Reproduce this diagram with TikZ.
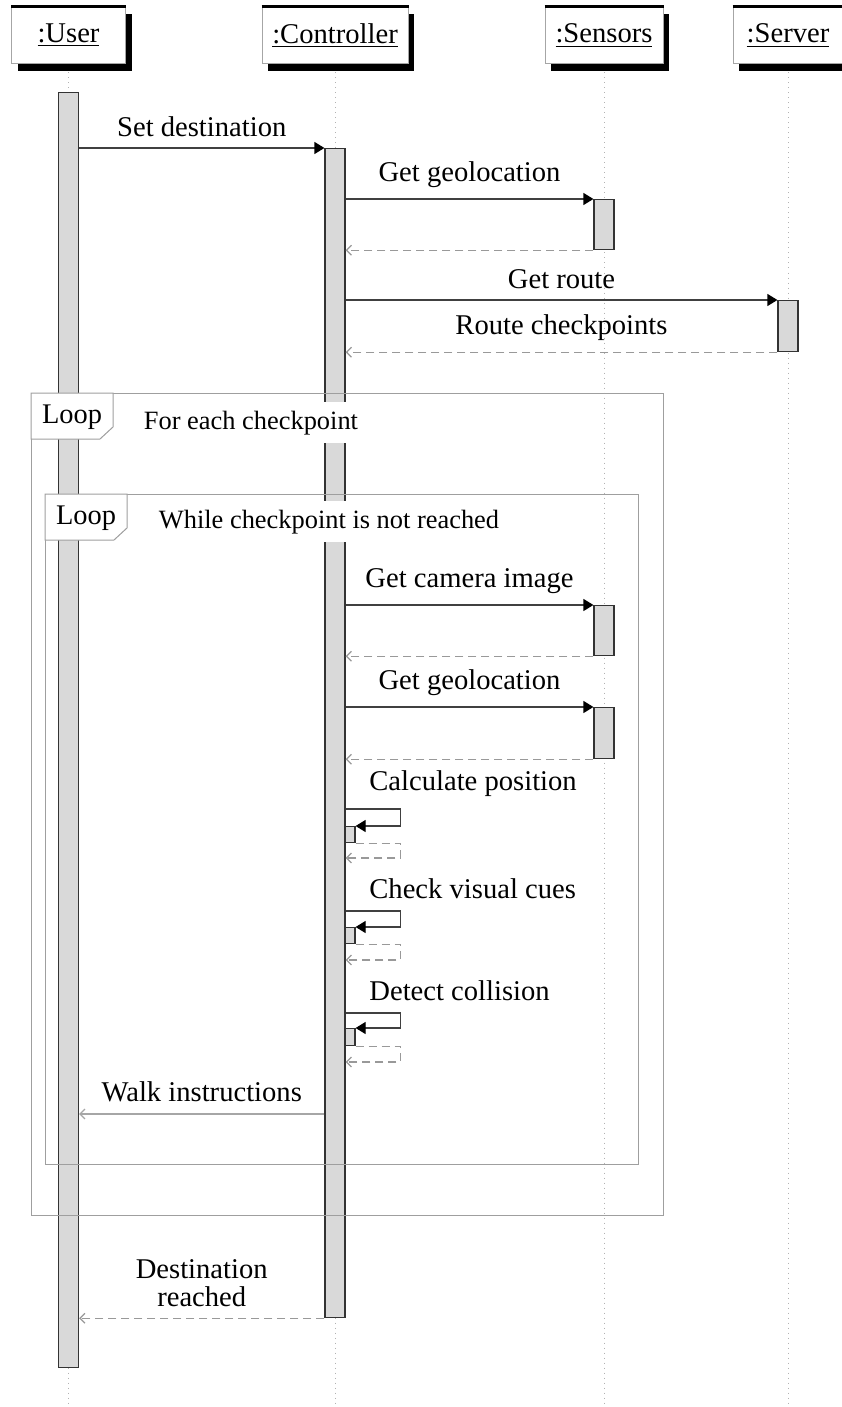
\documentclass[tikz,border=0pt]{standalone}
\usepackage{fontspec}
\setmainfont{Liberation Serif}
\usetikzlibrary{arrows.meta,shadows}

\begin{document}
\begin{tikzpicture}[x=0.5pt,y=-0.5pt,
  head/.style={draw=gray!70, fill=white, line width=0.5pt, minimum height=28.5pt, inner sep=0pt,
    font=\fontsize{14.3}{16}\selectfont,
    general shadow={fill=black, shadow xshift=3pt, shadow yshift=-3.5pt}},
  life/.style={draw=gray!60, line width=0.5pt, dotted},
  bar/.style={draw=gray!40!black, fill=gray!30, line width=0.6pt, minimum width=10pt, inner sep=0pt, anchor=north},
  sbar/.style={bar, minimum width=5pt},
  call/.style={draw=gray!50!black, line width=0.6pt, -{Triangle[length=5pt,width=6pt,color=black]}},
  ret/.style={draw=gray!80, line width=0.6pt, dash pattern=on 4pt off 2.5pt, -{Straight Barb[length=2.5pt,width=5pt]}},
  reply/.style={draw=gray!70, line width=0.6pt, -{Straight Barb[length=2.5pt,width=5pt]}},
  lbl/.style={font=\fontsize{14.3}{14}\selectfont, inner sep=0pt, anchor=south, yshift=5.5pt, midway},
  selflbl/.style={font=\fontsize{14.3}{16}\selectfont, inner sep=0pt, anchor=south west},
  frm/.style={draw=gray!75, line width=0.5pt},
  cond/.style={fill=white, font=\fontsize{13.2}{15}\selectfont, inner ysep=4.3pt, inner xsep=3pt, anchor=base},
  tagtxt/.style={font=\fontsize{14.2}{16}\selectfont, inner sep=0pt, anchor=base},
]
\useasboundingbox (0,0) rectangle (841,1407);
\coordinate (bot) at (0,1407);

% object headers
\node[head, minimum width=57pt] (user) at (68.5,35.5) {\underline{:User}};
\node[head, minimum width=73pt] (ctrl) at (335,35.5) {\underline{:Controller}};
\node[head, minimum width=59pt] (sens) at (604,35.5) {\underline{:Sensors}};
\node[head, minimum width=55pt] (serv) at (788,35.5) {\underline{:Server}};
\foreach \n in {user,ctrl,sens,serv}
  \draw[line width=1.2pt] (\n.north west) -- (\n.north east);

% lifelines
\foreach \n in {user,ctrl,sens,serv}
  \draw[life] ([yshift=-4pt]\n.south) -- (\n.south |- bot);

% activation bars
\node[bar, minimum height=637.5pt] (ub) at (user.center |- 0,92) {};
\node[bar, minimum height=584.5pt] (cb) at (ctrl.center |- 0,148) {};
\node[bar, minimum height=25pt] (sb1) at (sens.center |- 0,199) {};
\node[bar, minimum height=25.5pt] (vb) at (serv.center |- 0,300) {};
\node[bar, minimum height=25pt] (sb2) at (sens.center |- 0,605) {};
\node[bar, minimum height=25.5pt] (sb3) at (sens.center |- 0,707) {};
\node[sbar, minimum height=8pt] (sc1) at (350,826) {};
\node[sbar, minimum height=8pt] (sc2) at (350,927) {};
\node[sbar, minimum height=8.5pt] (sc3) at (350,1028) {};

% messages before the loops
\draw[call] (ub.east |- cb.north) -- node[lbl]{Set destination} (cb.north west);
\draw[call] (cb.east |- sb1.north) -- node[lbl]{Get geolocation} (sb1.north west);
\draw[ret] (sb1.south west) -- (cb.east |- sb1.south);
\draw[call] (cb.east |- vb.north) -- node[lbl]{Get route} (vb.north west);
\draw[ret] (vb.south west) -- node[lbl]{Route checkpoints} (cb.east |- vb.south);

% messages inside the inner loop
\draw[call] (cb.east |- sb2.north) -- node[lbl]{Get camera image} (sb2.north west);
\draw[ret] (sb2.south west) -- (cb.east |- sb2.south);
\draw[call] (cb.east |- sb3.north) -- node[lbl]{Get geolocation} (sb3.north west);
\draw[ret] (sb3.south west) -- (cb.east |- sb3.south);

% self calls
\draw[call] (cb.east |- 0,809) -- ++(55,0) |- (sc1.north east);
\draw[ret] (sc1.south east) -- ++(45,0) |- (cb.east |- 0,858);
\node[selflbl] (l1) at (369,797) {Calculate position};
\draw[call] (cb.east |- 0,911) -- ++(55,0) |- (sc2.north east);
\draw[ret] (sc2.south east) -- ++(45,0) |- (cb.east |- 0,960);
\node[selflbl] (l2) at (369,899) {Check visual cues};
\draw[call] (cb.east |- 0,1013) -- ++(55,0) |- (sc3.north east);
\draw[ret] (sc3.south east) -- ++(45,0) |- (cb.east |- 0,1062);
\node[selflbl] (l3) at (369,1001) {Detect collision};

\draw[reply] (cb.west |- 0,1114) -- node[lbl]{Walk instructions} (ub.east |- 0,1114);
\draw[ret] (cb.south west) -- node[lbl, align=center]{Destination\\reached} (ub.east |- cb.south);

% combined fragments
\node[frm, minimum width=316pt, minimum height=411pt, anchor=north west, inner sep=0pt] (loop1) at (31,393) {};
\node[frm, minimum width=296.5pt, minimum height=335pt, anchor=north west, inner sep=0pt] (loop2) at (45,494) {};

\filldraw[frm, fill=white] (loop1.north west) -- ++(82,0) -- ++(0,34) -- ++(-13,12) -- (loop1.north west |- 0,439) -- cycle;
\node[tagtxt] (t1) at (72,423) {Loop};
\node[cond] (c1) at (251,429) {For each checkpoint};

\filldraw[frm, fill=white] (loop2.north west) -- ++(82,0) -- ++(0,34) -- ++(-13,12) -- (loop2.north west |- 0,540) -- cycle;
\node[tagtxt] (t2) at (86,524) {Loop};
\node[cond] (c2) at (329,528) {While checkpoint is not reached};
\end{tikzpicture}
\end{document}
